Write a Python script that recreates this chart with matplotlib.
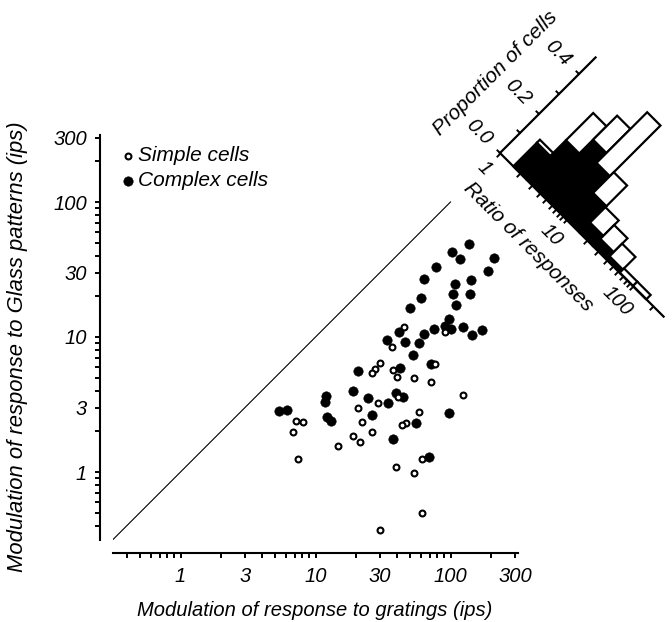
import numpy as np
import matplotlib
matplotlib.use('Agg')
import matplotlib.pyplot as plt
from matplotlib.transforms import Affine2D
from matplotlib.ticker import FixedLocator, FixedFormatter, NullFormatter
import mpl_toolkits.axisartist.floating_axes as floating_axes
from mpl_toolkits.axisartist.grid_finder import FixedLocator as GridFixedLocator

# ---------------- data ----------------
complex_x = [138, 103, 117, 211, 77.8, 191, 63.8, 141, 108, 105, 139, 60.7, 109, 50.3,
             98.3, 90.8, 100.5, 124, 170, 75.7, 144, 41.2, 63.1, 34.1, 46.4, 58.6, 53.2,
             72.3, 42.6, 20.7, 18.9, 39.3, 44.6, 24.6, 34.6, 12.0, 11.8, 26.4, 97.8, 12.1,
             13.1, 55.1, 37.8, 5.35, 6.17, 69.1]
complex_y = [48.9, 42.8, 38.0, 38.7, 33.2, 30.7, 26.9, 26.4, 24.7, 20.9, 20.9, 19.4, 17.2, 16.3,
             13.7, 12.1, 11.5, 11.8, 11.3, 11.5, 10.3, 10.9, 10.5, 9.5, 9.19, 9.08, 7.32,
             6.31, 5.93, 5.63, 3.96, 3.87, 3.61, 3.51, 3.24, 3.68, 3.32, 2.66, 2.75, 2.57,
             2.37, 2.29, 1.75, 2.82, 2.89, 1.30]
simple_x = [45.1, 90.8, 37.0, 30.2, 27.5, 26.4, 37.4, 40.3, 54.1, 71.1, 77.0, 123, 40.5, 29.1,
            20.8, 58.9, 7.11, 8.11, 6.76, 22.2, 46.7, 43.4, 26.4, 19.0, 21.5, 14.7, 7.48,
            61.7, 39.3, 53.8, 61.0, 29.8]
simple_y = [11.9, 10.8, 8.43, 6.45, 5.76, 5.44, 5.73, 5.03, 5.0, 4.64, 6.34, 3.74, 3.61, 3.26,
            3.0, 2.80, 2.37, 2.36, 1.99, 2.36, 2.32, 2.24, 1.99, 1.86, 1.66, 1.57, 1.24,
            1.24, 1.09, 0.99, 0.494, 0.372]
unity_line = [10 ** -0.5, 100]
axis_ticks = [1, 3, 10, 30, 100, 300]
axis_tick_labels = ['1', '3', '10', '30', '100', '300']

# histogram of log10(ratio of responses); proportions of each cell class (stacked)
hist_bin_left = [0.2, 0.4, 0.6, 0.8, 1.0, 1.2, 1.4, 1.6, 1.8, 2.0]
hist_bin_width = 0.2
prop_complex = [0.12, 0.20, 0.27, 0.22, 0.135, 0.052, 0.037, 0.016, 0.0, 0.0]
prop_simple = [0.015, 0.138, 0.122, 0.257, 0.105, 0.078, 0.070, 0.064, 0.022, 0.022]
ratio_label_vals = [1, 10, 100]
ratio_label_text = ['1', '10', '100']
prop_label_vals = [0.0, 0.2, 0.4]
prop_label_text = ['0.0', '0.2', '0.4']
prop_tick_vals = [0.0, 0.1, 0.2, 0.3, 0.4]

# ---------------- style ----------------
plt.rcParams['font.family'] = ['Liberation Sans', 'DejaVu Sans']
plt.rcParams['font.style'] = 'italic'

W, H = 672, 622
fig = plt.figure(figsize=(W / 100, H / 100), dpi=100)

# ---------------- main scatter ----------------
ax = fig.add_axes([113 / W, (H - 539.5) / H, 405 / W, 405 / H])
ax.set_xscale('log')
ax.set_yscale('log')
ax.set_xlim(10 ** -0.5, 10 ** 2.5)
ax.set_ylim(10 ** -0.5, 10 ** 2.5)
for s in ['top', 'right']:
    ax.spines[s].set_visible(False)
for s in ['left', 'bottom']:
    ax.spines[s].set_position(('outward', 13 * 0.72))
    ax.spines[s].set_linewidth(1.5)

minor = [k * 10.0 ** e for e in (-1, 0, 1, 2) for k in range(1, 10)]
minor = [m for m in minor if 10 ** -0.5 <= m <= 10 ** 2.5 and m not in axis_ticks]
for axis in (ax.xaxis, ax.yaxis):
    axis.set_major_locator(FixedLocator(axis_ticks))
    axis.set_major_formatter(FixedFormatter(axis_tick_labels))
    axis.set_minor_locator(FixedLocator(minor))
    axis.set_minor_formatter(NullFormatter())
ax.tick_params(which='both', direction='out', length=3.8, width=1.4, labelsize=14.5)
ax.tick_params(axis='x', which='both', pad=7)
ax.tick_params(axis='y', which='both', pad=5.5)

ax.plot(unity_line, unity_line, color='black', lw=0.8)
hc = ax.scatter(complex_x, complex_y, s=46, facecolor='black', edgecolor='black', lw=0.4, zorder=3)
hs = ax.scatter(simple_x, simple_y, s=18, facecolor='white', edgecolor='black', lw=1.5, zorder=4)

ax.legend([hs, hc], ['Simple cells', 'Complex cells'], loc='upper left',
          bbox_to_anchor=(122.5 / W, 1 - 146 / H), bbox_transform=fig.transFigure,
          frameon=False, handlelength=0.5, handletextpad=0.25, borderpad=0,
          borderaxespad=0, labelspacing=0.3, fontsize=15, scatterpoints=1)

fig.text(18 / W, 1 - 347 / H, 'Modulation of response to Glass patterns (ips)',
         rotation=90, ha='center', va='center', fontsize=15.8)
fig.text(315 / W, 1 - 610 / H, 'Modulation of response to gratings (ips)',
         ha='center', va='center', fontsize=14.5)

# ---------------- rotated histogram ----------------
su, sv = 66.5, 197.0          # px per decade of ratio, px per unit proportion (x-projection)
r2 = np.sqrt(2)
tr = Affine2D().scale(su * r2, sv * r2).rotate_deg(-45)
u_max, v_max = 2.46, 0.485
ratio_ticks_log = [np.log10(k * 10.0 ** e) for e in (0, 1, 2) for k in range(1, 10)
                   if np.log10(k * 10.0 ** e) <= u_max]
grid_helper = floating_axes.GridHelperCurveLinear(
    tr, extremes=(0, u_max, 0, v_max),
    grid_locator1=GridFixedLocator(ratio_ticks_log),
    grid_locator2=GridFixedLocator(prop_tick_vals))
corners = tr.transform([(0, 0), (u_max, 0), (0, v_max), (u_max, v_max)])
x0, y0 = corners.min(0)
x1, y1 = corners.max(0)
cx, cy = (x0 + x1) / 2, (y0 + y1) / 2
w, h = (x1 - x0) * 1.02, (y1 - y0) * 1.02
ox, oy = 500, H - 153
rect = [(ox + cx - w / 2) / W, (oy + cy - h / 2) / H, w / W, h / H]
hax = fig.add_axes(rect, axes_class=floating_axes.FloatingAxes, grid_helper=grid_helper)
hax.patch.set_facecolor('none')
hax.patch.set_edgecolor('none')
hax.axis['top'].set_visible(False)
hax.axis['right'].set_visible(False)
for name in ['left', 'bottom']:
    a = hax.axis[name]
    a.line.set_linewidth(1.6)
    a.major_ticks.set_tick_out(True)
    a.major_ticks.set_ticksize(3.8)
    a.major_ticks.set_markeredgewidth(1.4)
    a.major_ticklabels.set_visible(False)
    a.label.set_visible(False)

aux = hax.get_aux_axes(tr)
aux.bar(hist_bin_left, prop_complex, width=hist_bin_width, align='edge',
        facecolor='black', edgecolor='black', lw=1.6, clip_on=False)
aux.bar(hist_bin_left, prop_simple, width=hist_bin_width, bottom=prop_complex, align='edge',
        facecolor='white', edgecolor='black', lw=1.6, clip_on=False)

for val, txt in zip(ratio_label_vals, ratio_label_text):
    aux.text(np.log10(val), -0.078, txt, rotation=-45, rotation_mode='anchor',
             ha='center', va='center', fontsize=14.5)
for val, txt in zip(prop_label_vals, prop_label_text):
    aux.text(-0.32, val, txt, rotation=-45, rotation_mode='anchor',
             ha='center', va='center', fontsize=14.5)
aux.text(-0.63, 0.19, 'Proportion of cells', rotation=45, rotation_mode='anchor',
         ha='center', va='center', fontsize=15)
aux.text(0.92, -0.166, 'Ratio of responses', rotation=-45, rotation_mode='anchor',
         ha='center', va='center', fontsize=15)

fig.savefig('out.png', dpi=100)
